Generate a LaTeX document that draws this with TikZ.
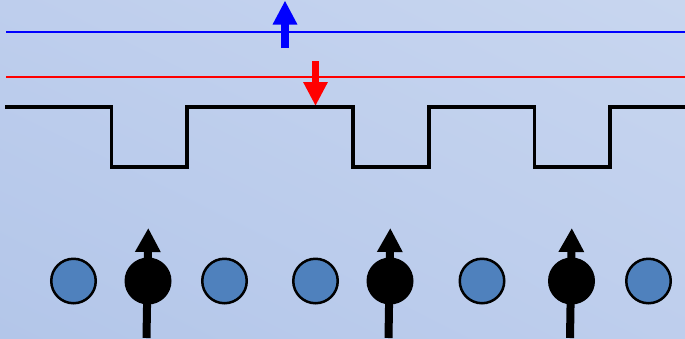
\documentclass[tikz,border=0pt]{standalone}
\usetikzlibrary{arrows.meta,shadings}
\definecolor{bgdark}{RGB}{179,198,233}
\definecolor{bgmid}{RGB}{190,206,237}
\definecolor{bglight}{RGB}{200,214,239}
\definecolor{atomblue}{RGB}{79,129,189}
\tikzset{
  level/.style={line width=2.5pt},
  bigarrow/.style={line width=7.7pt, -{Triangle[width=23pt,length=24pt]}},
  wave/.style={line width=3.5pt, line join=miter},
  ion/.style={circle, draw=black, line width=2.5pt, fill=atomblue, minimum size=44.5pt, inner sep=0pt},
  spinsite/.style={circle, fill=black, minimum size=47pt, inner sep=0pt},
  spinarrow/.style={line width=8pt, -{Triangle[width=24pt,length=24pt]}}
}
\begin{document}
\begin{tikzpicture}[x=1pt,y=-1pt]
  % background
  \shade[lower left=bgdark, upper right=bglight, upper left=bgmid, lower right=bgmid]
    (0,0) rectangle (685,338);
  \useasboundingbox (0,0) rectangle (685,338);

  % spin-up and spin-down levels
  \coordinate (upL) at (6,32);   \coordinate (upR) at (685,32);
  \coordinate (dnL) at (6,77);   \coordinate (dnR) at (685,77);
  \draw[level, blue] (upL) -- (upR);
  \draw[level, red]  (dnL) -- (dnR);
  \coordinate (bluefrom) at (285,48);  \coordinate (blueto) at (285,0.5);
  \coordinate (redfrom)  at (315.5,61); \coordinate (redto) at (315.5,106);
  \draw[bigarrow, blue] (bluefrom) -- (blueto);
  \draw[bigarrow, red]  (redfrom) -- (redto);

  % periodic potential
  \draw[wave] (5,107) -| (111.5,167) -| (187,107) -| (353,167)
              -| (429,107) -| (534.5,167) -| (610,107) -- (685,107);

  % lattice: magnetic sites with spins, non-magnetic ions between
  \foreach \i/\x in {1/148,2/390,3/571.5}{
    \coordinate (tail\i) at (\x-1.5,338);
    \coordinate (tip\i)  at (\x+0.3,228);
    \draw[spinarrow] (tail\i) -- (tip\i);
    \node[spinsite] (s\i) at (\x,281) {};
  }
  \foreach \i/\x in {1/73.5,2/224.5,3/315.5,4/482,5/648.5}{
    \node[ion] (a\i) at (\x,281) {};
  }
\end{tikzpicture}
\end{document}
